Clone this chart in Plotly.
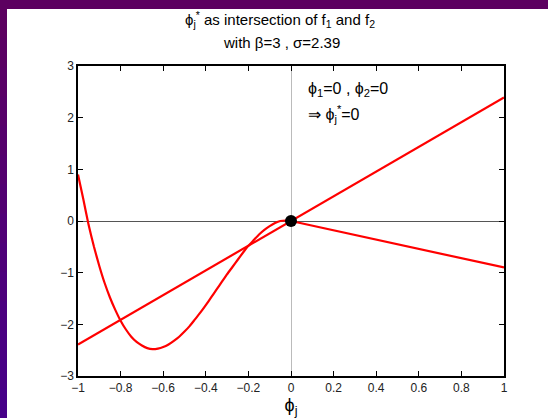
import plotly.graph_objects as go

# f1: straight line through the origin with slope sigma
f1_phi = [-1.0, 1.0]
f1_val = [-2.39, 2.39]

# f2 on the negative side (sampled curve)
f2_phi_neg = [-1.0, -0.975, -0.95, -0.925, -0.9, -0.875, -0.85, -0.825, -0.8, -0.775,
              -0.75, -0.725, -0.7, -0.675, -0.65, -0.625, -0.6, -0.575, -0.55, -0.525,
              -0.5, -0.475, -0.45, -0.425, -0.4, -0.375, -0.35, -0.325, -0.3, -0.275,
              -0.25, -0.225, -0.2, -0.175, -0.15, -0.125, -0.1, -0.075, -0.05, -0.025, 0.0]
f2_val_neg = [0.90, 0.42, -0.08, -0.50, -0.87, -1.20, -1.48, -1.72, -1.93, -2.10,
              -2.24, -2.34, -2.41, -2.46, -2.48, -2.47, -2.44, -2.39, -2.32, -2.24,
              -2.14, -2.03, -1.90, -1.77, -1.63, -1.48, -1.33, -1.18, -1.03, -0.89,
              -0.75, -0.61, -0.48, -0.37, -0.26, -0.17, -0.10, -0.04, -0.00, 0.01, 0.00]

# f2 on the positive side (linear)
f2_phi_pos = [0.0, 1.0]
f2_val_pos = [0.0, -0.9]

# fixed point
fix_phi = [0.0]
fix_val = [0.0]

x_ticks = [-1, -0.8, -0.6, -0.4, -0.2, 0, 0.2, 0.4, 0.6, 0.8, 1]
x_tick_text = ["\u22121", "\u22120.8", "\u22120.6", "\u22120.4", "\u22120.2", "0",
               "0.2", "0.4", "0.6", "0.8", "1"]
y_ticks = [-3, -2, -1, 0, 1, 2, 3]
y_tick_text = ["\u22123", "\u22122", "\u22121", "0", "1", "2", "3"]

RED = "#ff0000"
FONT = "Liberation Sans, Arial, Helvetica, sans-serif"
PHI = "\u03d5"

fig = go.Figure()
fig.add_trace(go.Scatter(x=f1_phi, y=f1_val, mode="lines",
                         line=dict(color=RED, width=2.2), hoverinfo="skip"))
fig.add_trace(go.Scatter(x=f2_phi_neg, y=f2_val_neg, mode="lines",
                         line=dict(color=RED, width=2.2, shape="spline", smoothing=0.4),
                         hoverinfo="skip"))
fig.add_trace(go.Scatter(x=f2_phi_pos, y=f2_val_pos, mode="lines",
                         line=dict(color=RED, width=2.2), hoverinfo="skip"))
fig.add_trace(go.Scatter(x=fix_phi, y=fix_val, mode="markers",
                         marker=dict(color="black", size=12), hoverinfo="skip"))

# window frame: purple band on top and a gradient strip on the left
W, H = 548, 418
L, R, T, B = 78, 44, 66, 42
pw, ph = W - L - R, H - T - B


def px_to_paper_x(px):
    return (px - L) / pw


def py_to_paper_y(py):
    return (H - B - py) / ph


shapes = []
shapes.append(dict(type="rect", xref="paper", yref="paper", layer="below",
                   x0=px_to_paper_x(0), x1=px_to_paper_x(W),
                   y0=py_to_paper_y(9), y1=py_to_paper_y(0),
                   fillcolor="#5c0060", line=dict(width=0)))
n_seg = 14
c_top = (92, 0, 96)
c_bot = (70, 0, 136)
for i in range(n_seg):
    t = i / (n_seg - 1)
    col = tuple(round(a + (b - a) * t) for a, b in zip(c_top, c_bot))
    y_a = 9 + (H - 9) * i / n_seg
    y_b = 9 + (H - 9) * (i + 1) / n_seg + 1
    shapes.append(dict(type="rect", xref="paper", yref="paper", layer="below",
                       x0=px_to_paper_x(0), x1=px_to_paper_x(7),
                       y0=py_to_paper_y(y_b), y1=py_to_paper_y(y_a),
                       fillcolor="rgb(%d,%d,%d)" % col, line=dict(width=0)))

title_font = dict(size=15, family=FONT, color="black")
label_font = dict(size=16, family=FONT, color="black")

fig.update_layout(
    width=W, height=H,
    margin=dict(l=L, r=R, t=T, b=B, autoexpand=False),
    paper_bgcolor="white", plot_bgcolor="white",
    showlegend=False,
    font=dict(family=FONT, color="#222222"),
    shapes=shapes,
    xaxis=dict(range=[-1, 1], tickvals=x_ticks, ticktext=x_tick_text, automargin=False,
               ticks="inside", ticklen=5, tickcolor="black", mirror="ticks",
               showline=True, linecolor="black", linewidth=1.5,
               showgrid=False, zeroline=True, zerolinecolor="#bbbbbb", zerolinewidth=1,
               tickfont=dict(size=12, family=FONT, color="#222222"),
               title=dict(text=PHI + "<sub>j</sub>", standoff=0,
                          font=dict(size=18, family=FONT, color="black"))),
    yaxis=dict(range=[-3, 3], tickvals=y_ticks, ticktext=y_tick_text, automargin=False,
               ticks="inside", ticklen=5, tickcolor="black", mirror="ticks",
               showline=True, linecolor="black", linewidth=1.5,
               showgrid=False, zeroline=True, zerolinecolor="#555555", zerolinewidth=1.2,
               tickfont=dict(size=12, family=FONT, color="#222222")),
    annotations=[
        dict(text=PHI + "<sub>j</sub><sup>*</sup> as intersection of f<sub>1</sub> and f<sub>2</sub>",
             x=px_to_paper_x(280), y=py_to_paper_y(19), xref="paper", yref="paper",
             xanchor="center", yanchor="middle", showarrow=False, font=title_font),
        dict(text="with \u03b2=3 , \u03c3=2.39",
             x=px_to_paper_x(281), y=py_to_paper_y(43), xref="paper", yref="paper",
             xanchor="center", yanchor="middle", showarrow=False, font=title_font),
        dict(text=PHI + "<sub>1</sub>=0 , " + PHI + "<sub>2</sub>=0", x=0.07, y=2.55,
             xref="x", yref="y", xanchor="left", yanchor="middle", showarrow=False,
             font=label_font),
        dict(text="\u21d2 " + PHI + "<sub>j</sub><sup>*</sup>=0", x=0.07, y=2.07,
             xref="x", yref="y", xanchor="left", yanchor="middle", showarrow=False,
             font=label_font),
    ],
)

fig.write_html("out.html")
